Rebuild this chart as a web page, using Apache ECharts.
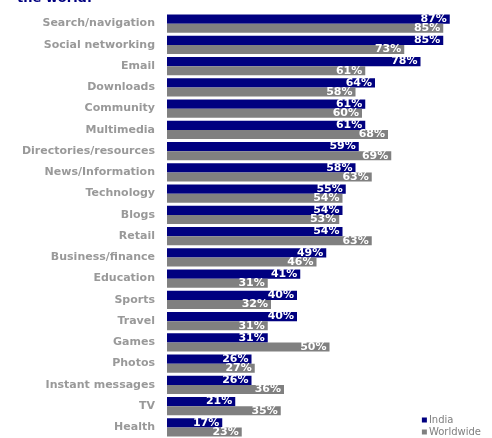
<!DOCTYPE html>
<html>
<head>
<meta charset="utf-8">
<script src="https://cdn.jsdelivr.net/npm/echarts@6/dist/echarts.min.js"></script>
<style>
  html, body { margin: 0; padding: 0; background: #fff; }
  #chart { width: 492px; height: 438px; }
</style>
</head>
<body>
<div id="chart"></div>
<script>
// data
const categories = ['Search/navigation', 'Social networking', 'Email', 'Downloads', 'Community',
  'Multimedia', 'Directories/resources', 'News/Information', 'Technology', 'Blogs', 'Retail',
  'Business/finance', 'Education', 'Sports', 'Travel', 'Games', 'Photos', 'Instant messages', 'TV', 'Health'];
const india = [87, 85, 78, 64, 61, 61, 59, 58, 55, 54, 54, 49, 41, 40, 40, 31, 26, 26, 21, 17];
const worldwide = [85, 73, 61, 58, 60, 68, 69, 63, 54, 53, 63, 46, 31, 32, 31, 50, 27, 36, 35, 23];

const chart = echarts.init(document.getElementById('chart'));

const barLabel = {
  show: true,
  position: 'insideRight',
  offset: [2, 0],
  formatter: '{c}%',
  color: '#fff',
  fontFamily: 'DejaVu Sans',
  fontWeight: 'bold',
  fontSize: 11
};

chart.setOption({
  animation: false,
  title: {
    text: 'the world.',
    left: 12,
    top: -13,
    textStyle: { color: '#000080', fontFamily: 'DejaVu Sans', fontWeight: 'bold', fontSize: 13 }
  },
  legend: {
    orient: 'vertical',
    right: 6,
    bottom: -4,
    itemWidth: 5,
    itemHeight: 5,
    itemGap: 2,
    icon: 'rect',
    textStyle: { color: '#808080', fontFamily: 'DejaVu Sans', fontSize: 10, padding: [0, 0, 0, -3] },
    data: ['India', 'Worldwide']
  },
  grid: { left: 167, right: 0, top: 13, bottom: -5 },
  xAxis: {
    type: 'value',
    min: 0,
    max: 100,
    show: false
  },
  yAxis: {
    type: 'category',
    inverse: true,
    data: categories,
    axisLine: { show: false },
    axisTick: { show: false },
    axisLabel: {
      margin: 12,
      color: '#999',
      fontFamily: 'DejaVu Sans',
      fontWeight: 'bold',
      fontSize: 11
    }
  },
  series: [
    {
      name: 'India',
      type: 'bar',
      data: india,
      itemStyle: { color: '#000080' },
      barGap: '0%',
      barCategoryGap: '13%',
      label: barLabel
    },
    {
      name: 'Worldwide',
      type: 'bar',
      data: worldwide,
      itemStyle: { color: '#808080' },
      label: barLabel
    }
  ]
});
</script>
</body>
</html>
